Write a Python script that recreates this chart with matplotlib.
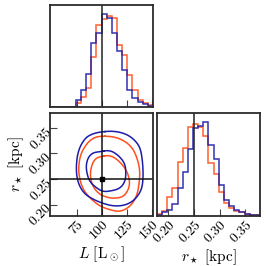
import numpy as np
import matplotlib
matplotlib.use("Agg")
import matplotlib.pyplot as plt
from matplotlib.ticker import FuncFormatter

plt.rcParams['mathtext.fontset'] = 'cm'
plt.rcParams['font.family'] = ['DejaVu Serif']

# axis ranges and truth values
L_range = (48.3, 151.3)
r_range = (0.178, 0.379)
L_true = 100.0
r_true = 0.25

# marginal histograms (20 bins across each axis range)
L_hist_blue = [0, 0, 0, 0, 0, 7, 17, 33, 64, 74, 93, 89, 74, 56, 37, 17, 9, 5, 3, 1]
L_hist_orange = [0, 0, 0, 0, 0, 4, 10, 19, 50, 82, 88, 91, 89, 62, 52, 32, 17, 7, 4, 2]
r_hist_blue = [1, 4, 6, 12, 28, 44, 67, 87, 89, 93, 71, 57, 31, 16, 10, 6, 4, 2, 1, 0.5]
r_hist_orange = [2, 5, 19, 28, 54, 68, 88, 91, 88, 79, 53, 42, 24, 13, 8, 5, 4, 2, 1, 0.5]

# 2D contour levels (outer / inner)
blue_outer_L = [98.3, 111.6, 123.3, 131.6, 138.3, 140.8, 141.6, 140.0, 133.3, 125.0,
                115.0, 105.0, 91.6, 81.6, 75.6, 74.3, 76.6, 83.3, 90.3]
blue_outer_r = [0.342, 0.344, 0.339, 0.329, 0.313, 0.287, 0.254, 0.229, 0.210, 0.200,
                0.197, 0.200, 0.210, 0.223, 0.246, 0.275, 0.307, 0.330, 0.338]
orange_outer_L = [98.3, 111.6, 121.6, 130.0, 135.0, 138.3, 137.6, 135.0, 128.3, 118.3,
                  108.3, 98.3, 89.3, 82.3, 78.3, 76.6, 78.8, 85.3, 91.3]
orange_outer_r = [0.334, 0.333, 0.326, 0.313, 0.294, 0.268, 0.242, 0.216, 0.196, 0.186,
                  0.190, 0.197, 0.211, 0.227, 0.246, 0.271, 0.299, 0.320, 0.330]
blue_inner_L = [98.3, 108.3, 116.6, 123.3, 124.3, 123.3, 118.3, 110.0, 101.6, 95.0,
                88.3, 85.3, 84.3, 86.6, 91.3]
blue_inner_r = [0.3036, 0.3065, 0.2967, 0.2806, 0.2611, 0.2447, 0.2318, 0.2271, 0.2252,
                0.2324, 0.2441, 0.2597, 0.2773, 0.2928, 0.3016]
orange_inner_L = [98.3, 108.3, 116.6, 125.0, 128.3, 126.6, 121.6, 113.3, 105.0, 96.6,
                  90.3, 88.3, 90.3, 93.8]
orange_inner_r = [0.2938, 0.2968, 0.2870, 0.2675, 0.2447, 0.2286, 0.2155, 0.2124, 0.2143,
                  0.2218, 0.2383, 0.2597, 0.2792, 0.2899]

L_ticks = [75, 100, 125, 150]
r_ticks = [0.20, 0.25, 0.30, 0.35]

BLUE = '#1c1ca8'
ORANGE = '#ff4f1a'
SPINE = '#2b2b2b'


def smooth_loop(xs, ys, n_iter=2):
    # Chaikin corner cutting on a closed loop
    p = np.column_stack([xs, ys]).astype(float)
    for _ in range(n_iter):
        q = np.roll(p, -1, axis=0)
        p = np.vstack([np.column_stack([0.75 * p[:, 0] + 0.25 * q[:, 0],
                                        0.75 * p[:, 1] + 0.25 * q[:, 1]]),
                       np.column_stack([0.25 * p[:, 0] + 0.75 * q[:, 0],
                                        0.25 * p[:, 1] + 0.75 * q[:, 1]])])
        # interleave the two sets
        k = len(p) // 2
        p = np.column_stack([p[:k], p[k:]]).reshape(-1, 2)
    p = np.vstack([p, p[:1]])
    return p[:, 0], p[:, 1]


fig = plt.figure(figsize=(2.66, 2.66), dpi=100)
W = 103 / 266
ax_L = fig.add_axes([50 / 266, 1 - 107 / 266, W, 102 / 266])
ax_2d = fig.add_axes([50 / 266, 1 - 216 / 266, W, W])
ax_r = fig.add_axes([157 / 266, 1 - 216 / 266, W, W])

for ax in (ax_L, ax_2d, ax_r):
    for s in ax.spines.values():
        s.set_linewidth(1.3)
        s.set_color(SPINE)
    ax.tick_params(direction='in', length=5, width=0.8, color='#444444',
                   labelsize=10, pad=1)

fmt_L = FuncFormatter(lambda v, p: r'$%d$' % v)
fmt_r = FuncFormatter(lambda v, p: r'$%.2f$' % v)


def rotate(labels):
    for t in labels:
        t.set_rotation(45)
        t.set_ha('right')
        t.set_rotation_mode('anchor')


# L marginal
edges_L = np.linspace(*L_range, len(L_hist_blue) + 1)
ax_L.stairs(L_hist_orange, edges_L, color=ORANGE, lw=1.1, alpha=0.9)
ax_L.stairs(L_hist_blue, edges_L, color=BLUE, lw=1.1, alpha=0.9)
ax_L.axvline(L_true, color='#222222', lw=1.1)
ax_L.set_xlim(L_range)
ax_L.set_ylim(0, 1.1 * max(max(L_hist_blue), max(L_hist_orange)))
ax_L.set_xticks(L_ticks)
ax_L.set_xticklabels([])
ax_L.set_yticks([])

# r marginal
edges_r = np.linspace(*r_range, len(r_hist_blue) + 1)
ax_r.stairs(r_hist_orange, edges_r, color=ORANGE, lw=1.1, alpha=0.9)
ax_r.stairs(r_hist_blue, edges_r, color=BLUE, lw=1.1, alpha=0.9)
ax_r.axvline(r_true, color='#222222', lw=1.1)
ax_r.set_xlim(r_range)
ax_r.set_ylim(0, 1.1 * max(max(r_hist_blue), max(r_hist_orange)))
ax_r.set_xticks(r_ticks)
ax_r.xaxis.set_major_formatter(fmt_r)
ax_r.set_yticks([])
rotate(ax_r.get_xticklabels())
ax_r.set_xlabel(r'$r_\star\ [\mathrm{kpc}]$', fontsize=11, labelpad=1)

# 2D panel
for xs, ys, c in [(orange_outer_L, orange_outer_r, ORANGE),
                  (orange_inner_L, orange_inner_r, ORANGE),
                  (blue_outer_L, blue_outer_r, BLUE),
                  (blue_inner_L, blue_inner_r, BLUE)]:
    sx, sy = smooth_loop(xs, ys)
    ax_2d.plot(sx, sy, color=c, lw=1.1)
ax_2d.axvline(L_true, color='#111111', lw=1.1)
ax_2d.axhline(r_true, color='#111111', lw=1.1)
ax_2d.plot(L_true, r_true, 's', color='black', ms=3.5)
ax_2d.set_xlim(L_range)
ax_2d.set_ylim(r_range)
ax_2d.set_xticks(L_ticks)
ax_2d.set_yticks(r_ticks)
ax_2d.xaxis.set_major_formatter(fmt_L)
ax_2d.yaxis.set_major_formatter(fmt_r)
rotate(ax_2d.get_xticklabels())
rotate(ax_2d.get_yticklabels())
ax_2d.set_xlabel(r'$L\ [\mathrm{L}_\odot]$', fontsize=11, labelpad=1)
ax_2d.set_ylabel(r'$r_\star\ [\mathrm{kpc}]$', fontsize=11, labelpad=0)

fig.savefig('out.png', dpi=100)
